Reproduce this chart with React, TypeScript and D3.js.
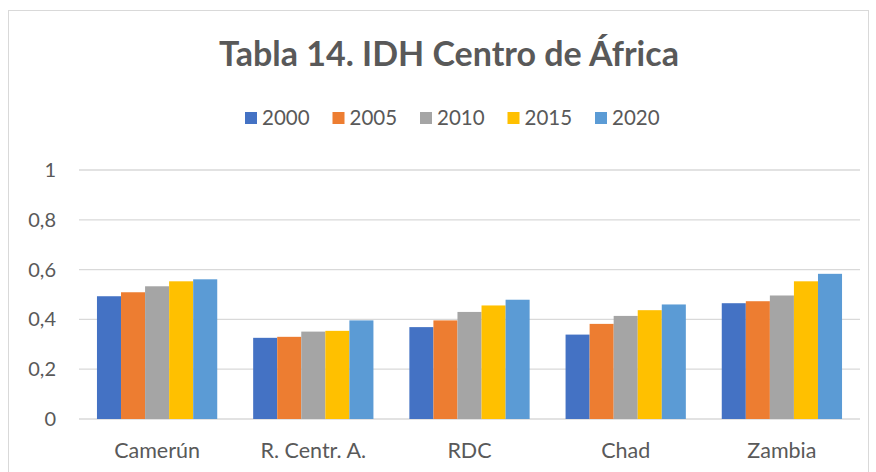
import React from 'react'
import * as d3 from 'd3'

// IDH values
const countries = ['Camerún', 'R. Centr. A.', 'RDC', 'Chad', 'Zambia']
const years = ['2000', '2005', '2010', '2015', '2020']
const v2000 = [0.493, 0.326, 0.369, 0.339, 0.465]
const v2005 = [0.509, 0.330, 0.396, 0.382, 0.473]
const v2010 = [0.533, 0.351, 0.430, 0.414, 0.496]
const v2015 = [0.553, 0.354, 0.456, 0.437, 0.553]
const v2020 = [0.561, 0.396, 0.479, 0.460, 0.583]
const yTicks = [0, 0.2, 0.4, 0.6, 0.8, 1]
const colors = ['#4472C4', '#ED7D31', '#A5A5A5', '#FFC000', '#5B9BD5']

const series = [v2000, v2005, v2010, v2015, v2020]

const W = 876
const H = 472
const font = 'Lato, "Open Sans", sans-serif'

export default function App() {
  const margin = { top: 170, right: 16, bottom: 53, left: 79 }
  const innerW = W - margin.left - margin.right
  const innerH = H - margin.top - margin.bottom

  const x0 = d3.scaleBand().domain(countries).range([0, innerW]).paddingInner(0.23).paddingOuter(0.115)
  const x1 = d3.scaleBand().domain(years).range([0, x0.bandwidth()])
  const y = d3.scaleLinear().domain([0, 1]).range([innerH, 0])
  const fmt = (d: number) => d3.format('.1~f')(d).replace('.', ',')

  const legendX = d3.scalePoint().domain(years).range([245, 595])

  return (
    <svg width={W} height={H} style={{ position: 'absolute', left: 0, top: 0, background: '#fff' }}>
      <rect x={8.5} y={10.5} width={860} height={480} fill="#fff" stroke="#d9d9d9" strokeWidth={1} />

      <text x={449} y={66} textAnchor="middle" fontFamily={font} fontWeight="bold" fontSize={34} fill="#595959">
        Tabla 14. IDH Centro de África
      </text>

      <g>
        {years.map((yr, i) => (
          <g key={yr} transform={`translate(${legendX(yr)},112)`}>
            <rect width={12} height={12} fill={colors[i]} />
            <text x={17} y={12.5} fontFamily={font} fontSize={20.5} fill="#595959">{yr}</text>
          </g>
        ))}
      </g>

      <g transform={`translate(${margin.left},${margin.top})`}>
        {yTicks.map(t => (
          <g key={t}>
            <line x1={0} x2={innerW} y1={y(t)} y2={y(t)} stroke="#d9d9d9" strokeWidth={1.3} />
            <text x={-23} y={y(t)} dy="0.35em" textAnchor="end" fontFamily={font} fontSize={20} fill="#595959">
              {fmt(t)}
            </text>
          </g>
        ))}

        {countries.map((c, ci) => (
          <g key={c} transform={`translate(${x0(c)},0)`}>
            {years.map((yr, si) => (
              <rect
                key={yr}
                x={x1(yr)}
                y={y(series[si][ci])}
                width={x1.bandwidth()}
                height={innerH - y(series[si][ci])}
                fill={colors[si]}
              />
            ))}
            <text x={x0.bandwidth() / 2} y={innerH + 39} textAnchor="middle" fontFamily={font} fontSize={21.5} fill="#595959">
              {c}
            </text>
          </g>
        ))}
      </g>
    </svg>
  )
}
